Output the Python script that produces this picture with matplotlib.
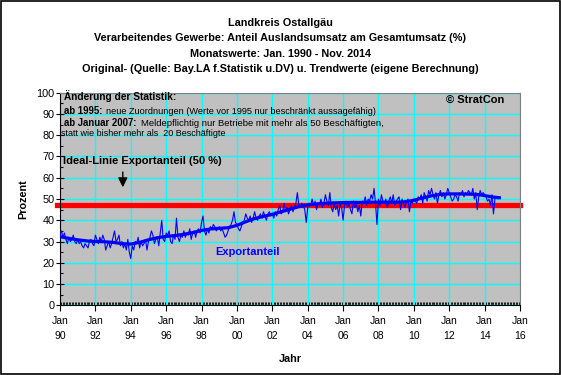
"""
Landkreis Ostallgäu - Exportanteil Verarbeitendes Gewerbe, Monatswerte 1990-2014
"""

import numpy as np
import matplotlib
matplotlib.use("Agg")
import matplotlib.pyplot as plt
from matplotlib.ticker import MultipleLocator, FixedLocator

# ── Daten ─────────────────────────────────────────────────────────────────────

START_YEAR = 1990

# Monatswerte Anteil Auslandsumsatz (%), Jan. 1990 - Nov. 2014
export_1990_1999 = [
    33, 35, 32, 34, 31, 29, 32, 30, 31, 33, 30, 29,
    31, 29, 30, 28, 27, 29, 28, 27, 30, 31, 29, 28,
    33, 31, 29, 32, 30, 33, 31, 26, 28, 30, 27, 29,
    32, 35, 30, 31, 33, 28, 30, 27, 29, 26, 31, 25,
    22, 28, 26, 30, 29, 32, 27, 30, 28, 29, 31, 26,
    30, 32, 35, 33, 29, 31, 32, 28, 34, 40, 31, 30,
    34, 33, 35, 30, 29, 33, 31, 41, 32, 30, 33, 32,
    35, 32, 34, 33, 36, 31, 34, 35, 32, 35, 36, 34,
    39, 42, 35, 33, 36, 34, 37, 36, 38, 37, 35, 36,
    37, 35, 36, 34, 32, 33, 35, 37, 38, 40, 44, 39,
]
export_2000_2009 = [
    38, 36, 35, 37, 39, 40, 43, 41, 40, 42, 39, 41,
    44, 41, 40, 42, 43, 41, 44, 42, 40, 43, 44, 42,
    43, 41, 44, 42, 45, 47, 43, 44, 48, 44, 46, 43,
    45, 47, 44, 46, 48, 53, 47, 46, 48, 47, 45, 39,
    46, 48, 47, 50, 47, 49, 45, 48, 47, 50, 46, 48,
    52, 49, 47, 53, 46, 44, 48, 45, 47, 42, 48, 46,
    40, 47, 49, 46, 48, 45, 43, 49, 46, 48, 44, 47,
    42, 49, 48, 51, 47, 50, 49, 52, 50, 55, 48, 38,
    50, 47, 52, 49, 48, 50, 46, 49, 51, 48, 52, 47,
    49, 50, 51, 45, 50, 48, 46, 49, 50, 44, 49, 48,
]
export_2010_2014 = [
    50, 49, 48, 51, 50, 52, 48, 53, 51, 49, 54, 52,
    55, 52, 50, 53, 48, 52, 54, 51, 53, 50, 52, 55,
    53, 51, 49, 50, 52, 51, 49, 53, 52, 54, 51, 53,
    52, 54, 53, 52, 55, 50, 53, 45, 51, 54, 52, 53,
    52, 51, 49, 50, 47, 52, 43, 50, 51, 50, 51,
]
export_values = export_1990_1999 + export_2000_2009 + export_2010_2014

trend_years = [
    1990.0, 1990.5, 1991.0, 1991.5, 1992.0, 1992.5, 1993.0, 1993.5, 1994.0, 1994.5,
    1995.0, 1995.5, 1996.0, 1996.5, 1997.0, 1997.5, 1998.0, 1998.5, 1999.0, 1999.5,
    2000.0, 2000.5, 2001.0, 2001.5, 2002.0, 2002.5, 2003.0, 2003.5, 2004.0, 2004.5,
    2005.0, 2005.5, 2006.0, 2006.5, 2007.0, 2007.5, 2008.0, 2008.5, 2009.0, 2009.5,
    2010.0, 2010.5, 2011.0, 2011.5, 2012.0, 2012.5, 2013.0, 2013.5, 2014.0, 2014.5,
    2014.83,
]
trend_values = [
    32.3, 31.5, 30.8, 30.3, 30.0, 29.9, 29.6, 29.0, 28.8, 29.6,
    30.8, 31.8, 32.4, 32.8, 33.4, 34.2, 35.2, 35.9, 36.2, 36.5,
    37.6, 39.3, 40.8, 41.8, 42.8, 44.0, 45.2, 46.4, 47.2, 47.7,
    48.0, 48.2, 48.3, 48.4, 48.4, 48.5, 48.5, 48.5, 48.5, 48.7,
    49.4, 50.5, 51.5, 52.2, 52.4, 52.4, 52.3, 52.2, 51.6, 50.9,
    50.6,
]

IDEAL_LINE = 47
x_tick_years = list(range(1990, 2017, 2))
x_tick_labels = [f"Jan\n{y % 100:02d}" for y in x_tick_years]

# ── Plot ──────────────────────────────────────────────────────────────────────

W, H = 561, 375
FONT = "Liberation Sans"
plt.rcParams["font.family"] = [FONT, "DejaVu Sans"]


def fx(px):
    return px / W


def fy(py):
    return 1 - py / H


fig = plt.figure(figsize=(W / 100, H / 100), dpi=100, facecolor="white")
fig.patches.append(plt.Rectangle((0.001, 0.002), 0.997, 0.995, transform=fig.transFigure,
                                 fill=False, edgecolor="black", linewidth=1.2))

ax = fig.add_axes([fx(60), fy(305.3), fx(520) - fx(60), fy(92.7) - fy(305.3)])
ax.set_facecolor("#C0C0C0")

months = np.arange(len(export_values))
x_month = START_YEAR + months / 12.0

ax.axhline(IDEAL_LINE, xmin=-0.007, xmax=1.0, color="#FF0000", linewidth=3.8,
           clip_on=False, zorder=2)
ax.plot(x_month, export_values, color="#0000FF", linewidth=0.8, zorder=3)
ax.plot(trend_years, trend_values, color="#0000FF", linewidth=2.3, zorder=4)

ax.set_xlim(1990, 2016)
ax.set_ylim(0, 100)
ax.xaxis.set_major_locator(FixedLocator(x_tick_years))
ax.set_xticklabels(x_tick_labels, fontsize=7.5, linespacing=1.6)
ax.xaxis.set_minor_locator(MultipleLocator(1 / 12))
ax.yaxis.set_major_locator(MultipleLocator(10))
ax.yaxis.set_minor_locator(MultipleLocator(5))
ax.tick_params(axis="y", which="major", direction="inout", length=6, width=0.8,
               labelsize=7.8, pad=1)
ax.tick_params(axis="y", which="minor", direction="in", length=2, width=0.8)
ax.tick_params(axis="x", which="major", direction="out", length=4, width=0.8,
               labelsize=7.5, pad=4)
ax.tick_params(axis="x", which="minor", direction="in", length=2, width=0.6)

ax.grid(True, which="major", color="#00FFFF", linewidth=1.0)
ax.set_axisbelow(True)
for side in ("top", "right"):
    ax.spines[side].set_color("#808080")
for side in ("left", "bottom"):
    ax.spines[side].set_color("black")

ax.set_ylabel("Prozent", fontsize=7.8, fontweight="bold", labelpad=6)
ax.set_xlabel("Jahr", fontsize=7.8, fontweight="bold", labelpad=9)

# Titel
titles = [
    "Landkreis Ostallgäu",
    "Verarbeitendes Gewerbe: Anteil Auslandsumsatz am Gesamtumsatz (%)",
    "Monatswerte: Jan. 1990 - Nov. 2014",
    "Original- (Quelle: Bay.LA f.Statistik u.DV) u. Trendwerte (eigene Berechnung)",
]
for i, t in enumerate(titles):
    fig.text(fx(280.5), fy(22.5 + i * 15.6), t, ha="center", va="center",
             fontsize=7.8, fontweight="bold")

# Hinweise im Diagramm
fig.text(fx(64), fy(96.5), "Änderung der Statistik:", ha="left", va="center",
         fontsize=7.3, fontweight="bold")


def note_line(py, bold, normal, fs_normal, gap):
    tb = fig.text(fx(64), fy(py), bold, ha="left", va="center",
                  fontsize=6.9, fontweight="bold")
    ax.annotate(normal, xy=(1, 0), xycoords=tb, xytext=(gap, 0),
                textcoords="offset points", ha="left", va="bottom",
                fontsize=fs_normal)


note_line(110.5, "ab 1995:", "neue Zuordnungen (Werte vor 1995 nur beschränkt aussagefähig)",
          6.55, 2.5)
note_line(123, "ab Januar 2007:", "Meldepflichtig nur Betriebe mit mehr als 50 Beschäftigten,",
          6.8, 3.5)
fig.text(fx(61), fy(133.5), "statt wie bisher mehr als  20 Beschäftigte",
         ha="left", va="center", fontsize=6.45)

fig.text(fx(63), fy(161), "Ideal-Linie Exportanteil (50 %)", ha="left", va="center",
         fontsize=8, fontweight="bold")
ax.annotate("", xy=(1993.55, 54.2), xytext=(1993.55, 64),
            arrowprops=dict(arrowstyle="-|>", color="black", lw=1.0,
                            mutation_scale=14))

fig.text(fx(475), fy(100), "© StratCon", ha="center", va="center",
         fontsize=8, fontweight="bold")
fig.text(fx(248), fy(252), "Exportanteil", ha="center", va="center",
         fontsize=8, fontweight="bold", color="#0000FF")

plt.savefig("out.png", dpi=100, facecolor="white")
plt.close()
